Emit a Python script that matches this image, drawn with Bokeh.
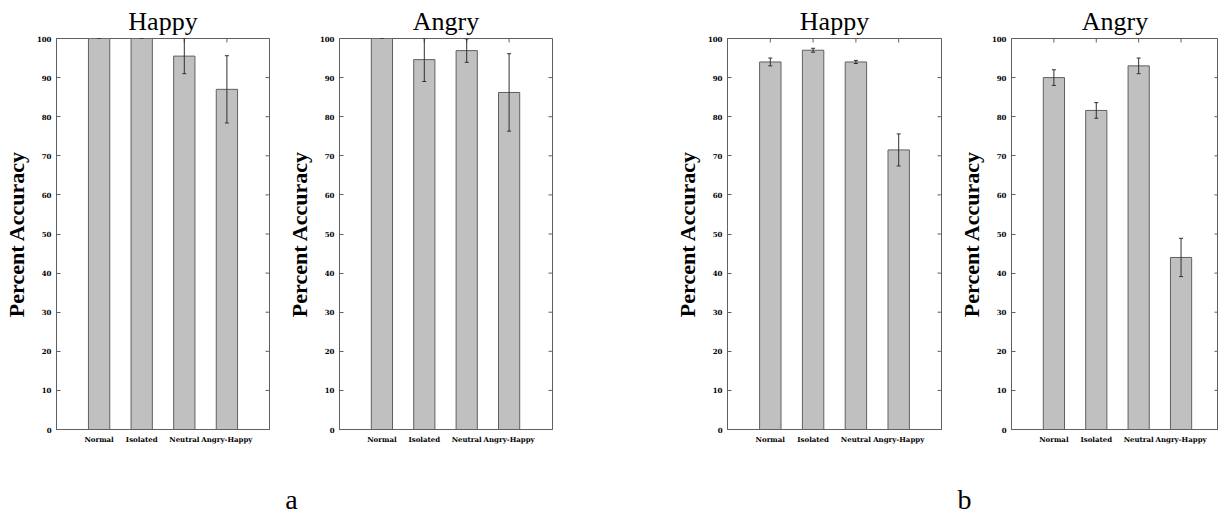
import math
from bokeh.plotting import figure
from bokeh.layouts import row, column
from bokeh.models import (Range1d, FixedTicker, Whisker, ColumnDataSource,
                          TeeHead, Label)
from bokeh.embed import file_html
from bokeh.resources import INLINE

categories = ["Normal", "Isolated", "Neutral", "Angry-Happy"]
y_ticks = [0, 10, 20, 30, 40, 50, 60, 70, 80, 90, 100]
panel_letters = ["a", "b"]

a_happy = [100.0, 100.0, 95.5, 87.0]
a_happy_err = [0.0, 0.0, 4.5, 8.6]
a_angry = [100.0, 94.6, 96.9, 86.2]
a_angry_err = [0.0, 5.6, 3.0, 9.9]
b_happy = [94.0, 97.0, 94.0, 71.5]
b_happy_err = [1.0, 0.5, 0.4, 4.1]
b_angry = [90.0, 81.6, 93.0, 44.0]
b_angry_err = [2.0, 2.0, 2.0, 4.9]

SERIF = "Liberation Serif"
TICKFONT = "DejaVu Serif"
GREY = "#606060"
TOP_B = 38
FRAME_H = 391
BOT_B = 40
CAP_H = 50
TOTAL_W = 1218
UNIT = 42.8  # px per category unit


def make_panel(title, vals, errs, left, frame_w, right):
    x_end = frame_w / UNIT
    xs = list(range(1, len(categories) + 1))
    src = ColumnDataSource(dict(
        x=xs, top=vals,
        upper=[min(100.0, v + e) for v, e in zip(vals, errs)],
        lower=[v - e for v, e in zip(vals, errs)],
    ))
    p = figure(width=left + frame_w + right, height=TOP_B + FRAME_H + BOT_B,
               x_range=Range1d(0, x_end), y_range=Range1d(0, 100),
               output_backend="svg", toolbar_location=None,
               min_border_left=left, min_border_right=right,
               min_border_top=TOP_B, min_border_bottom=BOT_B)
    p.title.text = title
    p.title.text_font = SERIF
    p.title.text_font_size = "26px"
    p.title.text_font_style = "normal"
    p.title.text_color = "black"
    p.title.align = "center"
    p.title.standoff = 6
    p.grid.visible = False
    p.outline_line_color = GREY
    p.background_fill_color = "white"
    p.border_fill_color = "white"

    xa = p.xaxis[0]
    xa.ticker = FixedTicker(ticks=xs)
    xa.major_label_overrides = {i: c for i, c in zip(xs, categories)}
    xa.major_tick_line_color = None
    xa.major_tick_in = 0
    xa.major_tick_out = 0
    xa.minor_tick_line_color = None
    xa.axis_line_color = GREY
    xa.major_label_text_font = TICKFONT
    xa.major_label_text_font_style = "bold"
    xa.major_label_text_font_size = "7px"
    xa.major_label_text_color = "black"
    xa.major_label_standoff = 5

    ya = p.yaxis[0]
    ya.ticker = FixedTicker(ticks=y_ticks)
    ya.major_tick_in = 4
    ya.major_tick_out = 0
    ya.major_tick_line_color = GREY
    ya.minor_tick_line_color = None
    ya.axis_line_color = GREY
    ya.major_label_text_font = TICKFONT
    ya.major_label_text_font_style = "bold"
    ya.major_label_text_font_size = "7px"
    ya.major_label_text_color = "black"
    ya.major_label_standoff = 5
    ya.axis_label = "Percent Accuracy"
    ya.axis_label_text_font = SERIF
    ya.axis_label_text_font_style = "bold"
    ya.axis_label_text_font_size = "22px"
    ya.axis_label_text_color = "black"
    ya.axis_label_standoff = 5

    # mirrored inward ticks on the top (categories) and right (y ticks) edges
    p.scatter(x=xs, y=[100] * len(xs), marker="dash", angle=math.pi / 2, size=8,
              line_color=GREY, line_width=1)
    p.scatter(x=[x_end] * len(y_ticks), y=y_ticks, marker="dash", size=8,
              line_color=GREY, line_width=1)

    p.vbar(x="x", top="top", bottom=0, width=0.5, source=src,
           fill_color="#c0c0c0", line_color=GREY, line_width=1)
    w = Whisker(base="x", upper="upper", lower="lower", source=src,
                line_color="#303030", line_width=1, level="annotation",
                upper_head=TeeHead(size=4, line_color="#303030", line_width=1),
                lower_head=TeeHead(size=4, line_color="#303030", line_width=1))
    p.add_layout(w)
    return p


p1 = make_panel("Happy", a_happy, a_happy_err, 55, 214, 14)
p2 = make_panel("Angry", a_angry, a_angry_err, 54, 215, 8)
p3 = make_panel("Happy", b_happy, b_happy_err, 167, 214, 14)
p4 = make_panel("Angry", b_angry, b_angry_err, 54, 209, 0)

# caption strip holding the sub-figure letters
cap = figure(width=TOTAL_W, height=CAP_H, x_range=Range1d(0, TOTAL_W),
             y_range=Range1d(0, CAP_H), output_backend="svg", toolbar_location=None,
             x_axis_location=None, y_axis_location=None, min_border=0,
             outline_line_color=None)
cap.grid.visible = False
cap.border_fill_color = "white"
for letter, xpos in zip(panel_letters, [291, 964]):
    cap.add_layout(Label(x=xpos, y=20, text=letter, text_font=SERIF,
                         text_font_size="28px", text_align="center",
                         text_baseline="alphabetic", text_color="black"))

layout = column(row(p1, p2, p3, p4), cap)
open("out.html", "w").write(file_html(layout, INLINE))
